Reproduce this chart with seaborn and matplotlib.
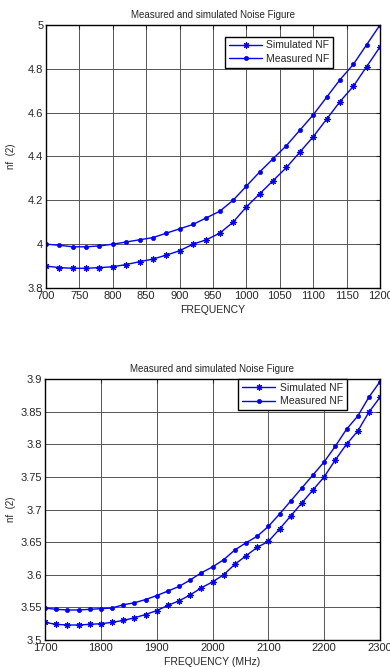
import numpy as np
import pandas as pd
import matplotlib
matplotlib.use("Agg")
import matplotlib.pyplot as plt
import seaborn as sns

freq1 = list(range(700, 1201, 20))
sim1 = [3.9, 3.893, 3.89, 3.89, 3.893, 3.897, 3.907, 3.92, 3.932, 3.95, 3.97, 4.0, 4.02,
        4.05, 4.1, 4.17, 4.23, 4.29, 4.35, 4.42, 4.49, 4.57, 4.65, 4.72, 4.81, 4.9]
meas1 = [4.0, 3.995, 3.988, 3.988, 3.992, 4.0, 4.01, 4.02, 4.03, 4.05, 4.07, 4.09, 4.12,
         4.15, 4.2, 4.265, 4.33, 4.39, 4.45, 4.52, 4.59, 4.67, 4.75, 4.82, 4.91, 5.0]

freq2 = list(range(1700, 2301, 20))
sim2 = [3.527, 3.524, 3.523, 3.523, 3.524, 3.525, 3.527, 3.530, 3.534, 3.539, 3.545, 3.553,
        3.560, 3.569, 3.580, 3.589, 3.600, 3.616, 3.629, 3.642, 3.651, 3.670, 3.690, 3.710,
        3.730, 3.750, 3.776, 3.800, 3.820, 3.849, 3.872]
meas2 = [3.549, 3.547, 3.546, 3.546, 3.547, 3.548, 3.549, 3.554, 3.557, 3.562, 3.568, 3.575,
         3.582, 3.592, 3.603, 3.612, 3.623, 3.638, 3.649, 3.659, 3.674, 3.693, 3.713, 3.733,
         3.753, 3.773, 3.797, 3.823, 3.843, 3.872, 3.896]

title = "Measured and simulated Noise Figure"
ylabel = "nf  (2)"
xlabel1 = "FREQUENCY"
xlabel2 = "FREQUENCY (MHz)"
xticks1 = list(range(700, 1201, 50))
yticks1 = [3.8, 4.0, 4.2, 4.4, 4.6, 4.8, 5.0]
ytl1 = ["3.8", "4", "4.2", "4.4", "4.6", "4.8", "5"]
xticks2 = list(range(1700, 2301, 100))
yticks2 = [3.5, 3.55, 3.6, 3.65, 3.7, 3.75, 3.8, 3.85, 3.9]
ytl2 = ["3.5", "3.55", "3.6", "3.65", "3.7", "3.75", "3.8", "3.85", "3.9"]

sns.set_style("white")
plt.rcParams['font.family'] = ['Liberation Sans', 'DejaVu Sans']

fig = plt.figure(figsize=(3.9, 6.67), dpi=100)
W, H = 390, 667
ax1 = fig.add_axes([46 / W, 1 - 288 / H, (380 - 46) / W, (288 - 25) / H])
ax2 = fig.add_axes([45 / W, 1 - 640 / H, (380 - 45) / W, (640 - 379) / H])

BLUE = "#0000ff"

def draw(ax, f, s, m, xt, yt, ytl, xl, legloc, ylx):
    sns.lineplot(x=f, y=s, ax=ax, color=BLUE, lw=1.0, marker=(8, 2, 0),
                 markersize=4.5, markeredgecolor=BLUE, mew=0.8, label="Simulated NF")
    sns.lineplot(x=f, y=m, ax=ax, color=BLUE, lw=1.0, marker="o",
                 markersize=3, markeredgecolor=BLUE, mew=0.5, label="Measured NF")
    ax.set_xlim(xt[0], xt[-1])
    ax.set_ylim(yt[0], yt[-1])
    ax.set_xticks(xt)
    ax.set_xticklabels([str(x) for x in xt], fontsize=8)
    ax.set_yticks(yt)
    ax.set_yticklabels(ytl, fontsize=8)
    ax.grid(True, color="#555555", lw=0.7)
    ax.tick_params(direction="in", length=3, width=0.8, top=True, right=True, pad=2)
    for sp in ax.spines.values():
        sp.set_color("black")
        sp.set_linewidth(1.0)
    ax.set_title(title, fontsize=7, pad=5)
    ax.set_xlabel(xl, fontsize=7.5, labelpad=3)
    ax.set_ylabel(ylabel, fontsize=7)
    ax.yaxis.set_label_coords(ylx, 0.5)
    leg = ax.legend(loc="upper right", bbox_to_anchor=legloc, fontsize=7.5,
                    frameon=True, fancybox=False, framealpha=1, edgecolor="black",
                    handlelength=3.2, borderpad=0.35, labelspacing=0.35,
                    handletextpad=0.4, borderaxespad=0)
    leg.get_frame().set_linewidth(1.0)

draw(ax1, freq1, sim1, meas1, xticks1, yticks1, ytl1, xlabel1, (0.86, 0.955), -0.09)
draw(ax2, freq2, sim2, meas2, xticks2, yticks2, ytl2, xlabel2, (0.9, 1.0), -0.088)

fig.savefig("out.png", dpi=100)
